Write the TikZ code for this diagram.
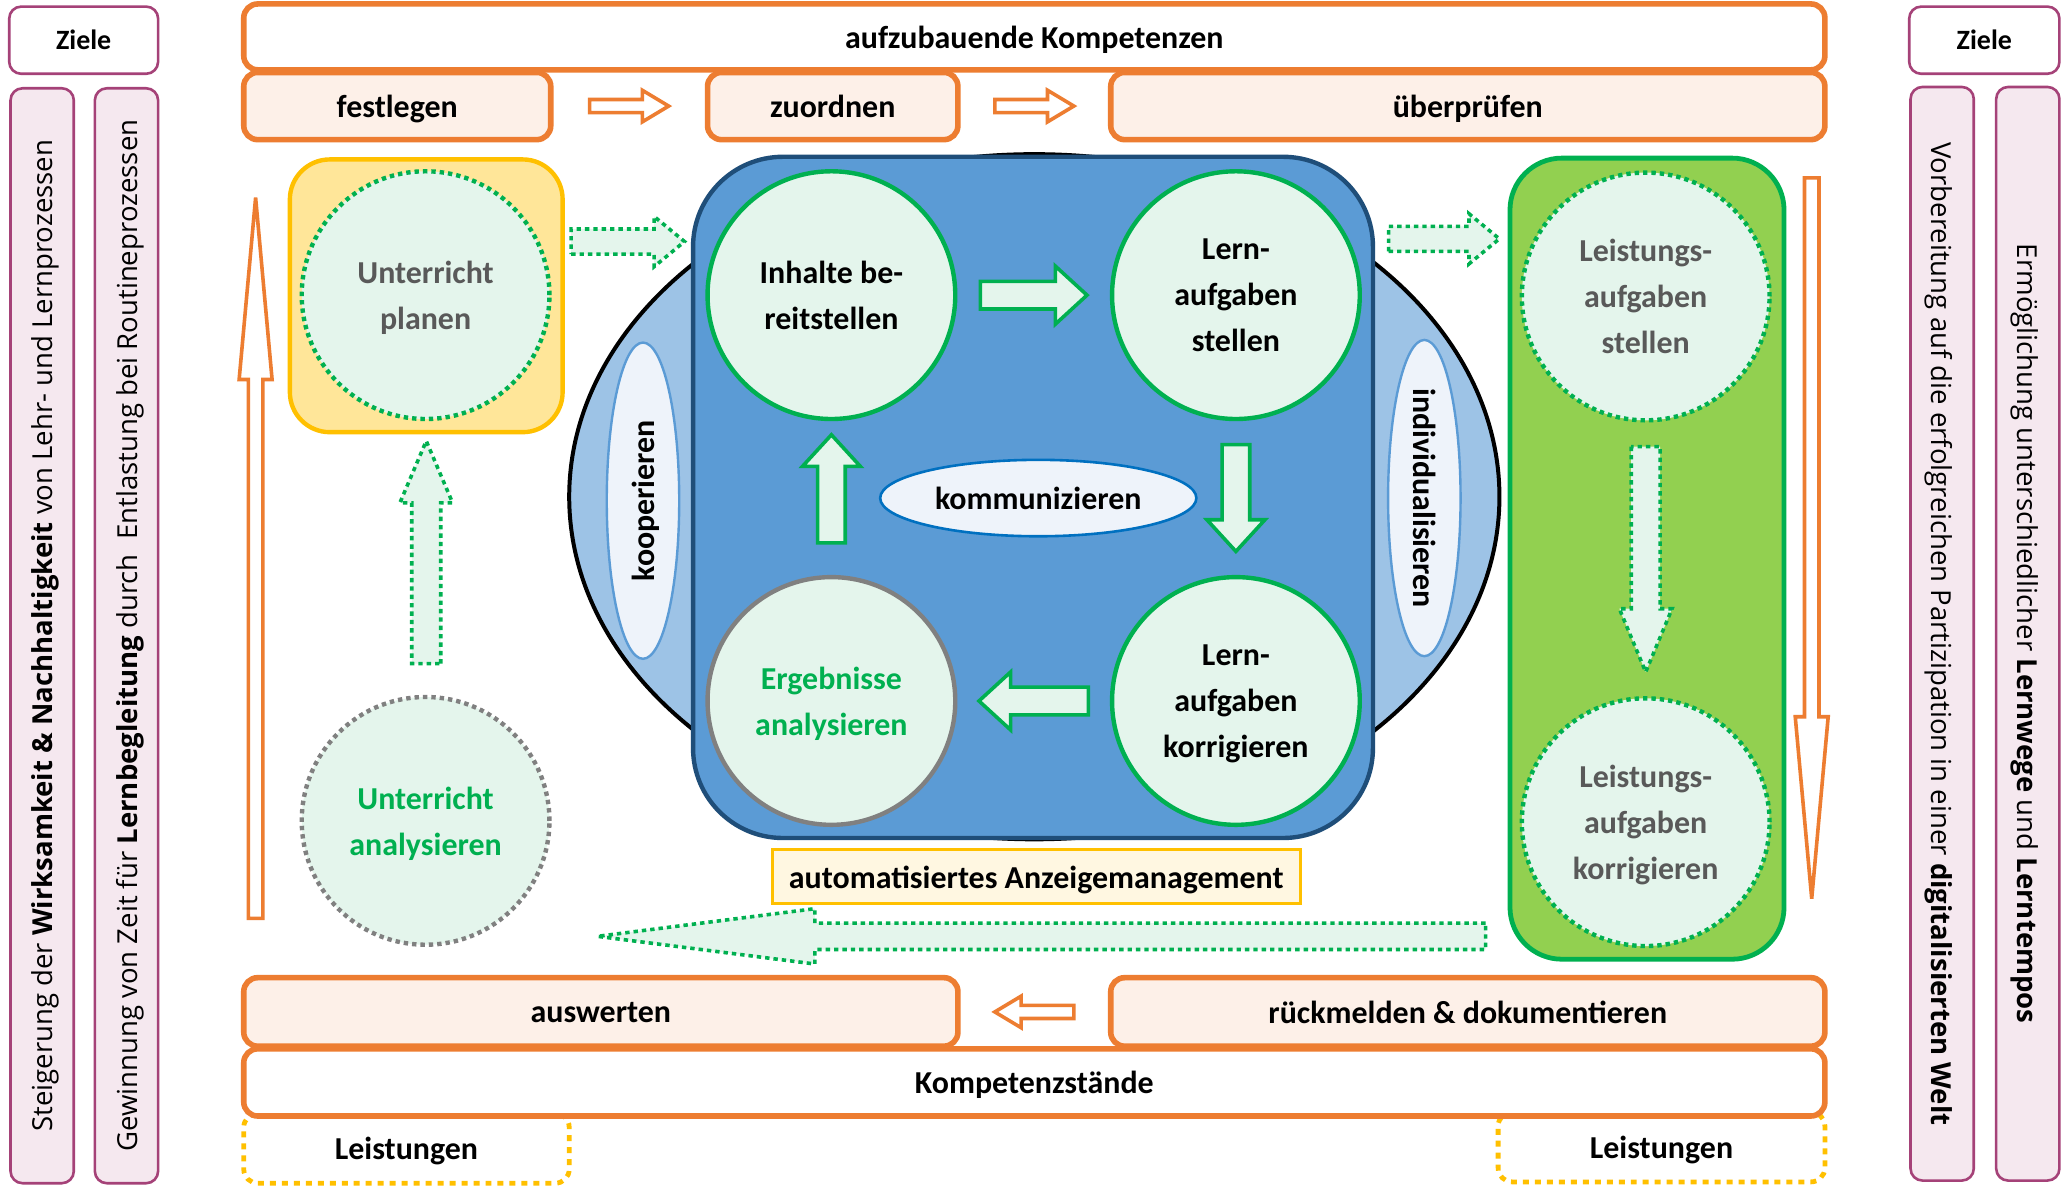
\documentclass[tikz,border=0pt]{standalone}
\usepackage{fontspec}
\setmainfont{Carlito}
\newfontfamily\sidefont{Open Sans}
\usetikzlibrary{shapes.geometric,calc}

\definecolor{kOrange}{RGB}{237,125,49}
\definecolor{kPeach}{RGB}{253,240,232}
\definecolor{kPurple}{RGB}{165,66,120}
\definecolor{kPink}{RGB}{245,232,239}
\definecolor{kYellow}{RGB}{255,192,0}
\definecolor{kYellowFill}{RGB}{255,230,153}
\definecolor{kCream}{RGB}{255,247,225}
\definecolor{kGreen}{RGB}{0,176,80}
\definecolor{kLime}{RGB}{146,208,80}
\definecolor{kMint}{RGB}{228,245,236}
\definecolor{kBlue}{RGB}{91,155,213}
\definecolor{kNavy}{RGB}{31,78,121}
\definecolor{kSky}{RGB}{157,195,230}
\definecolor{kIce}{RGB}{238,243,250}
\definecolor{kDeepBlue}{RGB}{0,112,192}
\definecolor{kGrey}{RGB}{128,128,128}
\definecolor{kText}{RGB}{89,89,89}

\newcommand{\upx}{0.66pt}

\tikzset{
  pics/blockarrow/.style n args={4}{code={
    \path[pic actions] (-#1/2,-#2) -- (#1/2-#4,-#2) -- (#1/2-#4,-#3) -- (#1/2,0)
      -- (#1/2-#4,#3) -- (#1/2-#4,#2) -- (-#1/2,#2) -- cycle;
  }}
}

\begin{document}
\begin{tikzpicture}[x=0.66pt,y=0.66pt,yscale=-1,
  every node/.style={inner sep=0pt, text depth=0pt, font=\fontsize{16}{23}\selectfont\bfseries},
  goalhead/.style={draw=kPurple, line width=1.3pt, fill=white, rounded corners=6pt, font=\fontsize{14}{17}\selectfont\bfseries},
  goalbar/.style={draw=kPurple, line width=1.3pt, fill=kPink, rounded corners=6pt, font=\sidefont\fontsize{13.8}{16}\selectfont},
  kompbar/.style={draw=kOrange, line width=2.8pt, fill=white, rounded corners=7pt},
  stepbar/.style={kompbar, fill=kPeach},
  leistbar/.style={draw=kYellow, line width=2.4pt, dash pattern=on 3pt off 3pt, rounded corners=7pt},
  task/.style={circle, draw=kGreen, line width=2.2pt, fill=kMint, align=center, minimum size=188*\upx},
  examtask/.style={task, dash pattern=on 2.2pt off 2pt, text=kText},
  arrowO/.style={draw=kOrange, fill=white, line width=1.8pt},
  arrowG/.style={draw=kGreen, fill=kMint, line width=1.8pt},
  arrowGd/.style={arrowG, dash pattern=on 2.2pt off 2pt}]
%uncomment if require: \path (0,0); %diagram size 1568 x 905
\path[use as bounding box, fill=white] (0,0) rectangle (1568,905);

%Rounded Rect: Ziele left and right
\node[goalhead, minimum width=113*\upx, minimum height=51*\upx] (zieleL) at (63.5,30.5) {Ziele};
\node[goalhead, minimum width=114*\upx, minimum height=51*\upx] (zieleR) at (1506,30.5) {Ziele};
%Rounded Rect: goal bars
\node[goalbar, rotate=90, minimum width=831*\upx, minimum height=48*\upx] (wirksam) at (32,482.5) {Steigerung der \textbf{Wirksamkeit \& Nachhaltigkeit} von Lehr- und Lernprozessen};
\node[goalbar, rotate=90, minimum width=831*\upx, minimum height=48*\upx] (zeit) at (96,482.5) {Gewinnung von Zeit für \textbf{Lernbegleitung} durch\ \ Entlastung bei Routineprozessen};
\node[goalbar, rotate=-90, minimum width=830*\upx, minimum height=48*\upx] (partizipation) at (1474,481) {Vorbereitung auf die erfolgreichen Partizipation in einer \textbf{digitalisierten Welt}};
\node[goalbar, rotate=-90, minimum width=830*\upx, minimum height=48*\upx] (lernwege) at (1539,481) {Ermöglichung unterschiedlicher \textbf{Lernwege} und \textbf{Lerntempos}};

%Rounded Rect: top row
\node[kompbar, minimum width=1200*\upx, minimum height=50*\upx] (kompOben) at (785,28) {aufzubauende Kompetenzen};
\node[stepbar, minimum width=233*\upx, minimum height=51*\upx] (festlegen) at (301.5,80.5) {festlegen};
\node[stepbar, minimum width=190*\upx, minimum height=51*\upx] (zuordnen) at (632,80.5) {zuordnen};
\node[stepbar, minimum width=542*\upx, minimum height=51*\upx] (pruefen) at (1114,80.5) {überprüfen};
%Right Arrow
\pic[arrowO] at ($(festlegen.east)!0.5!(zuordnen.west)$) {blockarrow={60}{5}{12}{20}};
\pic[arrowO] at ($(zuordnen.east)!0.5!(pruefen.west)$) {blockarrow={60}{5}{12}{20}};

%Rounded Rect: planning
\node[draw=kYellow, fill=kYellowFill, line width=2.2pt, rounded corners=20pt, minimum size=207*\upx] (planbox) at (323.5,224.5) {};
\node[examtask] (planen) at (323,224) {Unterricht\\planen};

%Shape: Ellipse behind the learning space
\node[ellipse, draw=black, line width=2pt, fill=kSky, minimum width=706*\upx, minimum height=520*\upx] (rahmen) at (785,377) {};
\node[ellipse, draw=kBlue, line width=1.2pt, fill=kIce, rotate=90, minimum width=240*\upx, minimum height=55*\upx] (kooperieren) at (488,380) {kooperieren};
\node[ellipse, draw=kBlue, line width=1.2pt, fill=kIce, rotate=-90, minimum width=240*\upx, minimum height=55*\upx] (individualisieren) at (1081,378) {individualisieren};
%Rounded Rect: learning space
\node[draw=kNavy, fill=kBlue, line width=2.2pt, rounded corners=45pt, minimum width=516*\upx, minimum height=517*\upx] (lernraum) at (784,377.5) {};
\node[task] (inhalte) at (631,224) {Inhalte be-\\reitstellen};
\node[task] (lernstellen) at (938,224) {Lern-\\aufgaben\\stellen};
\node[task, draw=kGrey, text=kGreen] (ergebnisse) at (631,532) {Ergebnisse\\analysieren};
\node[task] (lernkorr) at (938,532) {Lern-\\aufgaben\\korrigieren};
\node[ellipse, draw=kDeepBlue, fill=kIce, line width=1.3pt, minimum width=240*\upx, minimum height=58*\upx] (kommunizieren) at (788,378) {kommunizieren};
%Block Arrows: cycle
\pic[arrowG] at ($(inhalte.east)!0.5!(lernstellen.west)$) {blockarrow={81}{10.5}{22}{24}};
\pic[arrowG, rotate=-90] at ($(lernstellen.south)!0.5!(lernkorr.north)$) {blockarrow={81}{10.5}{22}{24}};
\pic[arrowG, rotate=180] at ($(lernkorr.west)!0.5!(ergebnisse.east)$) {blockarrow={83}{10.5}{22}{24}};
\pic[arrowG, rotate=90] at ($(ergebnisse.north)!0.5!(inhalte.south)+(0,-7)$) {blockarrow={82}{10.5}{22}{24}};

%Rounded Rect: performance
\node[draw=kGreen, fill=kLime, line width=2.4pt, rounded corners=26pt, minimum width=208*\upx, minimum height=608*\upx] (pruefraum) at (1250,424) {};
\node[examtask] (leistStellen) at (1249,225) {Leistungs-\\aufgaben\\stellen};
\node[examtask] (leistKorr) at (1249,624) {Leistungs-\\aufgaben\\korrigieren};
\pic[arrowGd, rotate=-90] at ($(leistStellen.south)!0.5!(leistKorr.north)$) {blockarrow={171}{11}{20}{48}};

%Dotted Arrows
\pic[arrowGd] at ($(planbox.north east)!0.5!(lernraum.north west)+(0,65)$) {blockarrow={86}{9.5}{19}{23}};
\pic[arrowGd] at ($(lernraum.north east)!0.5!(pruefraum.north west)+(2,63.5)$) {blockarrow={84}{9.5}{19}{23}};

%Shape: Circle analysis
\node[examtask, draw=kGrey, text=kGreen] (analysieren) at (323,623) {Unterricht\\analysieren};
\pic[arrowGd, rotate=90] at ($(planbox.south)+(0,89.5)$) {blockarrow={169}{11}{20}{47}};

% Text Node
\node[draw=kYellow, fill=kCream, line width=1.5pt, minimum width=401*\upx, minimum height=41*\upx] (anzeige) at (786.5,665.5) {automatisiertes Anzeigemanagement};
\pic[arrowGd, rotate=180, line join=round] at ($(anzeige.south)+(4,23.5)$) {blockarrow={674}{10}{21}{165}};

%Rounded Rect: bottom rows
\node[leistbar, minimum width=247*\upx, minimum height=53*\upx] (leistL) at (308.5,871.5) {Leistungen};
\node[leistbar, minimum width=248*\upx, minimum height=53*\upx] (leistR) at (1261,870.5) {Leistungen};
\node[kompbar, minimum width=1200*\upx, minimum height=51*\upx] (kompUnten) at (785,821.5) {Kompetenzstände};
\node[stepbar, minimum width=542*\upx, minimum height=52*\upx] (auswerten) at (456,768) {auswerten};
\node[stepbar, minimum width=542*\upx, minimum height=52*\upx] (rueckmelden) at (1114,768) {rückmelden \& dokumentieren};
%Left Arrow
\pic[arrowO, rotate=180] at ($(rueckmelden.west)!0.5!(auswerten.east)$) {blockarrow={60}{5}{12}{20}};

%Up and Down Arrows
\pic[arrowO, rotate=90] at (194,423.5) {blockarrow={547}{5.5}{12.5}{138}};
\pic[arrowO, rotate=-90] at (1375,408.5) {blockarrow={547}{5.5}{12.5}{138}};

\end{tikzpicture}
\end{document}
